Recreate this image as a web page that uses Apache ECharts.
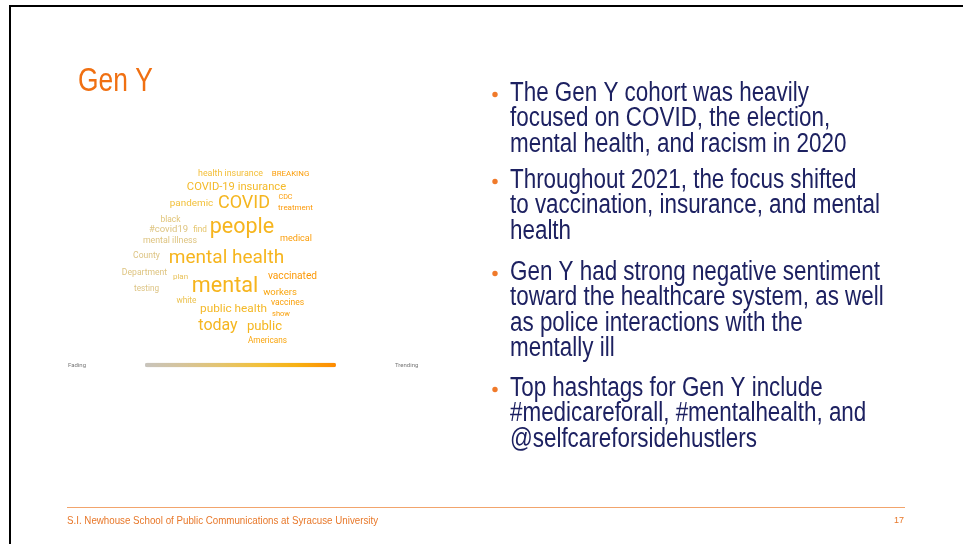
<!DOCTYPE html>
<html><head><meta charset="utf-8">
<script src="https://cdn.jsdelivr.net/npm/echarts@6/dist/echarts.min.js"></script>
<style>html,body{margin:0;padding:0;background:#fff}#c{width:963px;height:544px}</style>
</head><body><div id="c"></div>
<script>
// ---- word cloud data ----
const words = ['health insurance','BREAKING','COVID-19 insurance','pandemic','COVID','CDC','treatment','black','#covid19','find','people','medical','mental illness','County','mental health','Department','plan','vaccinated','mental','workers','testing','white','vaccines','public health','show','today','public','Americans'];
// position of each word inside the cloud (cloud frame units)
const wordX = [110.5,170.5,116.5,71.5,124,165.5,175.5,50.5,48.5,80,122,176,50,26.5,106.5,24.5,60.5,172.5,105,160,26.5,66.5,167.5,113.5,161,98,144.5,147.5];
const wordY = [14,14,26.8,44,43,37.5,48,59.4,70,70,68,78.5,81,96,98,113,116.5,116,127,133,129,141,143,148.6,154,166,167,181];
// relative frequency (weight) of each word
const weights = [89,79,112,99,180,72,80,84,95,82,215,91,88,86,190,86,80,102,216,95,82,83,85,118,75,160,131,82];
// trend score: 0 = fading, 100 = trending
const trend = [62,90,68,60,73,90,92,36,32,42,74,90,32,30,74,32,47,92,75,86,30,52,88,69,88,73,73,86];
const legendText = ['Trending','Fading'];

// ---- slide text ----
const titleText = 'Gen Y';
const bullets = [
  ['The Gen Y cohort was heavily','focused on COVID, the election,','mental health, and racism in 2020'],
  ['Throughout 2021, the focus shifted','to vaccination, insurance, and mental','health'],
  ['Gen Y had strong negative sentiment','toward the healthcare system, as well','as police interactions with the','mentally ill'],
  ['Top hashtags for Gen Y include','#medicareforall, #mentalhealth, and','@selfcareforsidehustlers']
];
const bulletBaselines = [103,190,282,398];
const footerText = 'S.I. Newhouse School of Public Communications at Syracuse University';
const pageNum = '17';

const SANS = '"Liberation Sans",Arial,sans-serif';
const chart = echarts.init(document.getElementById('c'), null, {renderer:'canvas'});

const LH = 25.3, BF = 27, BSX = 0.83;
const graphics = [
  {type:'line', shape:{x1:9,y1:6,x2:963,y2:6}, style:{stroke:'#000',lineWidth:2}},
  {type:'line', shape:{x1:10,y1:5,x2:10,y2:544}, style:{stroke:'#000',lineWidth:2}},
  {type:'text', x:78, y:81.6, scaleX:0.8, style:{text:titleText, fill:'#f07012', font:'33px '+SANS, verticalAlign:'middle', align:'left'}},
  {type:'line', shape:{x1:67,y1:507.5,x2:905,y2:507.5}, style:{stroke:'#f2a46c',lineWidth:1}},
  {type:'text', x:67, y:521, scaleX:0.975, style:{text:footerText, fill:'#e8782a', font:'10px '+SANS, verticalAlign:'middle', align:'left'}},
  {type:'text', x:904, y:521, style:{text:pageNum, fill:'#e8782a', font:'9px '+SANS, verticalAlign:'middle', align:'right'}}
];
bullets.forEach((lines,i)=>{
  const b = bulletBaselines[i];
  graphics.push({type:'circle', shape:{cx:495, cy:b-8.5, r:2.7}, style:{fill:'#f07a2a'}});
  graphics.push({type:'text', x:510, y:b-0.3465*BF-LH/2, scaleX:BSX, style:{text:lines.join('\n'), fill:'#1d2161', font:BF+'px '+SANS, lineHeight:LH, verticalAlign:'top', align:'left'}});
});

chart.setOption({
  animation:false,
  backgroundColor:'#fff',
  grid:{left:120, top:160, width:200, height:190},
  xAxis:{type:'value', min:0, max:200, show:false},
  yAxis:{type:'value', min:0, max:190, inverse:true, show:false},
  visualMap:{
    type:'continuous', min:0, max:100, dimension:2, seriesIndex:0,
    orient:'horizontal', left:53, top:347, itemWidth:4.5, itemHeight:191,
    text:legendText, textGap:59, calculable:false, realtime:false,
    textStyle:{color:'#777', fontSize:6, fontFamily:'Roboto'},
    inRange:{color:['#c8c4bc','#d6c49a','#e4c46e','#f2c03a','#f7b012','#ff8a00']}
  },
  series:[{
    type:'scatter', silent:true, symbolSize:0,
    data: words.map((w,i)=>({name:w, value:[wordX[i], wordY[i], trend[i]], label:{fontSize:weights[i]/10}})),
    label:{show:true, position:'inside', formatter:'{b}', color:'inherit', opacity:1, fontFamily:'Roboto', align:'center', verticalAlign:'middle'},
    emphasis:{disabled:true}
  }],
  graphic:graphics
});
</script></body></html>
